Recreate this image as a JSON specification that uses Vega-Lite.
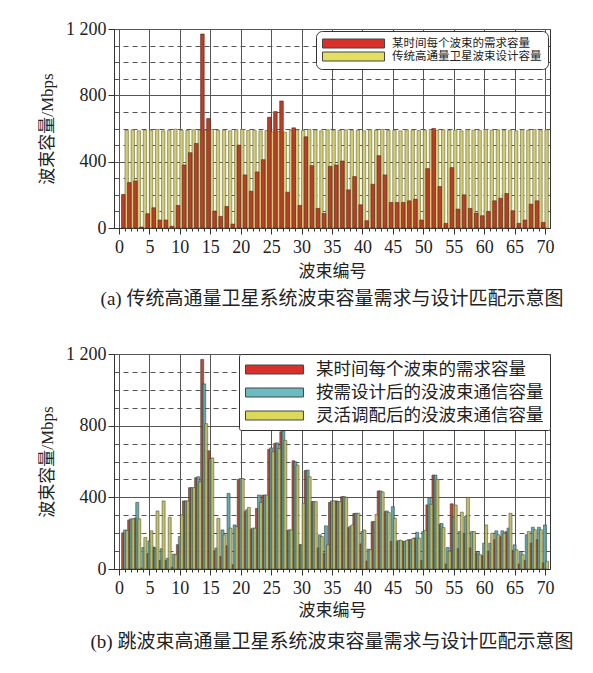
{
  "$schema": "https://vega.github.io/schema/vega-lite/v6.json",
  "padding": {"left": 38, "top": 19, "right": 5, "bottom": 5},
  "data": {
    "values": [
      {"beam": 1, "demand": 202, "trad": 588, "demand_b": 202, "ondemand": 218, "flex": 215},
      {"beam": 2, "demand": 274, "trad": 592, "demand_b": 274, "ondemand": 280, "flex": 280},
      {"beam": 3, "demand": 284, "trad": 586, "demand_b": 284, "ondemand": 372, "flex": 280},
      {"beam": 4, "demand": 6, "trad": 590, "demand_b": 6, "ondemand": 120, "flex": 176},
      {"beam": 5, "demand": 86, "trad": 588, "demand_b": 86, "ondemand": 157, "flex": 213},
      {"beam": 6, "demand": 122, "trad": 594, "demand_b": 122, "ondemand": 117, "flex": 324},
      {"beam": 7, "demand": 48, "trad": 586, "demand_b": 48, "ondemand": 113, "flex": 380},
      {"beam": 8, "demand": 48, "trad": 590, "demand_b": 48, "ondemand": 60, "flex": 289},
      {"beam": 9, "demand": 10, "trad": 596, "demand_b": 10, "ondemand": 83, "flex": 80},
      {"beam": 10, "demand": 136, "trad": 590, "demand_b": 136, "ondemand": 181, "flex": 302},
      {"beam": 11, "demand": 380, "trad": 588, "demand_b": 380, "ondemand": 380, "flex": 380},
      {"beam": 12, "demand": 454, "trad": 592, "demand_b": 454, "ondemand": 454, "flex": 454},
      {"beam": 13, "demand": 510, "trad": 590, "demand_b": 510, "ondemand": 515, "flex": 487},
      {"beam": 14, "demand": 1170, "trad": 588, "demand_b": 1170, "ondemand": 1033, "flex": 811},
      {"beam": 15, "demand": 660, "trad": 594, "demand_b": 660, "ondemand": 617, "flex": 620},
      {"beam": 16, "demand": 102, "trad": 588, "demand_b": 102, "ondemand": 117, "flex": 283},
      {"beam": 17, "demand": 70, "trad": 590, "demand_b": 70, "ondemand": 218, "flex": 191},
      {"beam": 18, "demand": 130, "trad": 586, "demand_b": 130, "ondemand": 422, "flex": 228},
      {"beam": 19, "demand": 24, "trad": 592, "demand_b": 24, "ondemand": 246, "flex": 237},
      {"beam": 20, "demand": 500, "trad": 594, "demand_b": 500, "ondemand": 505, "flex": 505},
      {"beam": 21, "demand": 320, "trad": 588, "demand_b": 320, "ondemand": 330, "flex": 343},
      {"beam": 22, "demand": 222, "trad": 590, "demand_b": 222, "ondemand": 228, "flex": 228},
      {"beam": 23, "demand": 338, "trad": 586, "demand_b": 338, "ondemand": 413, "flex": 372},
      {"beam": 24, "demand": 412, "trad": 588, "demand_b": 412, "ondemand": 413, "flex": 413},
      {"beam": 25, "demand": 668, "trad": 580, "demand_b": 668, "ondemand": 676, "flex": 654},
      {"beam": 26, "demand": 702, "trad": 582, "demand_b": 702, "ondemand": 704, "flex": 672},
      {"beam": 27, "demand": 766, "trad": 578, "demand_b": 766, "ondemand": 770, "flex": 718},
      {"beam": 28, "demand": 216, "trad": 590, "demand_b": 216, "ondemand": 218, "flex": 218},
      {"beam": 29, "demand": 604, "trad": 592, "demand_b": 604, "ondemand": 598, "flex": 580},
      {"beam": 30, "demand": 136, "trad": 588, "demand_b": 136, "ondemand": 135, "flex": 367},
      {"beam": 31, "demand": 550, "trad": 594, "demand_b": 550, "ondemand": 552, "flex": 515},
      {"beam": 32, "demand": 376, "trad": 590, "demand_b": 376, "ondemand": 376, "flex": 376},
      {"beam": 33, "demand": 118, "trad": 586, "demand_b": 118, "ondemand": 191, "flex": 181},
      {"beam": 34, "demand": 88, "trad": 592, "demand_b": 88, "ondemand": 241, "flex": 135},
      {"beam": 35, "demand": 372, "trad": 590, "demand_b": 372, "ondemand": 380, "flex": 380},
      {"beam": 36, "demand": 380, "trad": 588, "demand_b": 380, "ondemand": 376, "flex": 376},
      {"beam": 37, "demand": 404, "trad": 592, "demand_b": 404, "ondemand": 404, "flex": 400},
      {"beam": 38, "demand": 230, "trad": 588, "demand_b": 230, "ondemand": 237, "flex": 246},
      {"beam": 39, "demand": 310, "trad": 590, "demand_b": 310, "ondemand": 311, "flex": 311},
      {"beam": 40, "demand": 140, "trad": 586, "demand_b": 140, "ondemand": 209, "flex": 218},
      {"beam": 41, "demand": 44, "trad": 592, "demand_b": 44, "ondemand": 111, "flex": 107},
      {"beam": 42, "demand": 264, "trad": 590, "demand_b": 264, "ondemand": 265, "flex": 305},
      {"beam": 43, "demand": 436, "trad": 594, "demand_b": 436, "ondemand": 435, "flex": 430},
      {"beam": 44, "demand": 320, "trad": 588, "demand_b": 320, "ondemand": 324, "flex": 315},
      {"beam": 45, "demand": 154, "trad": 590, "demand_b": 154, "ondemand": 348, "flex": 283},
      {"beam": 46, "demand": 154, "trad": 586, "demand_b": 154, "ondemand": 160, "flex": 160},
      {"beam": 47, "demand": 154, "trad": 592, "demand_b": 154, "ondemand": 154, "flex": 160},
      {"beam": 48, "demand": 164, "trad": 590, "demand_b": 164, "ondemand": 163, "flex": 170},
      {"beam": 49, "demand": 174, "trad": 588, "demand_b": 174, "ondemand": 205, "flex": 172},
      {"beam": 50, "demand": 48, "trad": 590, "demand_b": 48, "ondemand": 209, "flex": 215},
      {"beam": 51, "demand": 358, "trad": 594, "demand_b": 358, "ondemand": 398, "flex": 361},
      {"beam": 52, "demand": 600, "trad": 590, "demand_b": 524, "ondemand": 524, "flex": 500},
      {"beam": 53, "demand": 250, "trad": 592, "demand_b": 250, "ondemand": 254, "flex": 231},
      {"beam": 54, "demand": 28, "trad": 588, "demand_b": 28, "ondemand": 120, "flex": 100},
      {"beam": 55, "demand": 364, "trad": 590, "demand_b": 364, "ondemand": 290, "flex": 357},
      {"beam": 56, "demand": 114, "trad": 586, "demand_b": 114, "ondemand": 209, "flex": 317},
      {"beam": 57, "demand": 200, "trad": 592, "demand_b": 200, "ondemand": 293, "flex": 400},
      {"beam": 58, "demand": 118, "trad": 590, "demand_b": 118, "ondemand": 209, "flex": 209},
      {"beam": 59, "demand": 90, "trad": 588, "demand_b": 90, "ondemand": 98, "flex": 80},
      {"beam": 60, "demand": 74, "trad": 594, "demand_b": 74, "ondemand": 144, "flex": 246},
      {"beam": 61, "demand": 100, "trad": 590, "demand_b": 100, "ondemand": 144, "flex": 200},
      {"beam": 62, "demand": 164, "trad": 592, "demand_b": 164, "ondemand": 213, "flex": 191},
      {"beam": 63, "demand": 180, "trad": 588, "demand_b": 180, "ondemand": 213, "flex": 200},
      {"beam": 64, "demand": 208, "trad": 590, "demand_b": 208, "ondemand": 228, "flex": 311},
      {"beam": 65, "demand": 104, "trad": 586, "demand_b": 104, "ondemand": 135, "flex": 107},
      {"beam": 66, "demand": 28, "trad": 592, "demand_b": 28, "ondemand": 98, "flex": 80},
      {"beam": 67, "demand": 48, "trad": 590, "demand_b": 48, "ondemand": 191, "flex": 209},
      {"beam": 68, "demand": 144, "trad": 594, "demand_b": 144, "ondemand": 233, "flex": 219},
      {"beam": 69, "demand": 164, "trad": 590, "demand_b": 164, "ondemand": 233, "flex": 219},
      {"beam": 70, "demand": 34, "trad": 592, "demand_b": 34, "ondemand": 246, "flex": 43}
    ]
  },
  "vconcat": [
    {
      "width": 436,
      "height": 199,
      "title": {"text": "(a) 传统高通量卫星系统波束容量需求与设计匹配示意图", "orient": "bottom", "offset": 11},
      "encoding": {
        "x": {
          "field": "beam",
          "type": "quantitative",
          "title": "波束编号",
          "scale": {"domain": [0, 70], "nice": false, "zero": true},
          "axis": {
            "values": [0,1,2,3,4,5,6,7,8,9,10,11,12,13,14,15,16,17,18,19,20,21,22,23,24,25,26,27,28,29,30,31,32,33,34,35,36,37,38,39,40,41,42,43,44,45,46,47,48,49,50,51,52,53,54,55,56,57,58,59,60,61,62,63,64,65,66,67,68,69,70],
            "labelExpr": "datum.value % 5 === 0 ? datum.label : ''",
            "labelOverlap": false,
            "labelFlush": false,
            "labelPadding": 4,
            "titlePadding": 7,
            "grid": true,
            "gridOpacity": {"condition": {"test": "datum.value % 5 === 0", "value": 1}, "value": 0},
            "tickSize": {"condition": {"test": "datum.value % 5 === 0", "value": 6}, "value": 3}
          }
        },
        "y": {
          "type": "quantitative",
          "title": "波束容量/Mbps",
          "scale": {"domain": [0, 1200], "nice": false},
          "axis": {
            "values": [0,100,200,300,400,500,600,700,800,900,1000,1100,1200],
            "labelExpr": "datum.value % 400 === 0 ? (datum.value === 1200 ? '1 200' : datum.label) : ''",
            "labelOverlap": false,
            "labelFlush": false,
            "titlePadding": 9,
            "grid": true,
            "gridDash": {"condition": {"test": "datum.value % 400 === 0", "value": []}, "value": [5, 4]},
            "tickSize": {"condition": {"test": "datum.value % 400 === 0", "value": 6}, "value": 0}
          }
        }
      },
      "layer": [
        {
          "mark": {"type": "bar", "width": 3.4, "xOffset": 1.6, "fill": "#d0cc78", "stroke": "#6b6830", "strokeWidth": 0.6},
          "encoding": {"y": {"field": "trad"}}
        },
        {
          "mark": {"type": "bar", "width": 3.6, "xOffset": -1.8, "fill": "#b8402a", "stroke": "#5a2418", "strokeWidth": 0.6},
          "encoding": {"y": {"field": "demand"}}
        },
        {
          "mark": {"type": "bar", "opacity": 0},
          "encoding": {
            "y": {"field": "demand"},
            "color": {
              "datum": "某时间每个波束的需求容量",
              "type": "nominal",
              "scale": {
                "domain": ["某时间每个波束的需求容量", "传统高通量卫星波束设计容量"],
                "range": ["#d8312c", "#e3df62"]
              },
              "legend": {
                "title": null,
                "orient": "top-right",
                "offset": 2,
                "padding": 6,
                "strokeColor": "#333",
                "fillColor": "white",
                "cornerRadius": 6,
                "labelFontSize": 11.5,
                "labelLimit": 300,
                "labelOffset": 57,
                "rowPadding": 0,
                "symbolType": "M-1,-0.75H9.33V0.75H-1Z",
                "symbolSize": 144,
                "symbolStrokeColor": "#444",
                "symbolStrokeWidth": 1,
                "symbolOpacity": 1
              }
            }
          }
        }
      ]
    },
    {
      "width": 436,
      "height": 215,
      "title": {"text": "(b) 跳波束高通量卫星系统波束容量需求与设计匹配示意图", "orient": "bottom", "offset": 15},
      "encoding": {
        "x": {
          "field": "beam",
          "type": "quantitative",
          "title": "波束编号",
          "scale": {"domain": [0, 70], "nice": false, "zero": true},
          "axis": {
            "values": [0,1,2,3,4,5,6,7,8,9,10,11,12,13,14,15,16,17,18,19,20,21,22,23,24,25,26,27,28,29,30,31,32,33,34,35,36,37,38,39,40,41,42,43,44,45,46,47,48,49,50,51,52,53,54,55,56,57,58,59,60,61,62,63,64,65,66,67,68,69,70],
            "labelExpr": "datum.value % 5 === 0 ? datum.label : ''",
            "labelOverlap": false,
            "labelFlush": false,
            "labelPadding": 4,
            "titlePadding": 5,
            "grid": true,
            "gridOpacity": {"condition": {"test": "datum.value % 5 === 0", "value": 1}, "value": 0},
            "tickSize": {"condition": {"test": "datum.value % 5 === 0", "value": 6}, "value": 3}
          }
        },
        "y": {
          "type": "quantitative",
          "title": "波束容量/Mbps",
          "scale": {"domain": [0, 1200], "nice": false},
          "axis": {
            "values": [0,100,200,300,400,500,600,700,800,900,1000,1100,1200],
            "labelExpr": "datum.value % 400 === 0 ? (datum.value === 1200 ? '1 200' : datum.label) : ''",
            "labelOverlap": false,
            "labelFlush": false,
            "titlePadding": 9,
            "grid": true,
            "gridDash": {"condition": {"test": "datum.value % 400 === 0", "value": []}, "value": [5, 4]},
            "tickSize": {"condition": {"test": "datum.value % 400 === 0", "value": 6}, "value": 0}
          }
        }
      },
      "layer": [
        {
          "mark": {"type": "bar", "width": 3, "xOffset": -2, "fill": "#a83a2a", "stroke": "#3a2a20", "strokeWidth": 0.6, "opacity": 0.9},
          "encoding": {"y": {"field": "demand_b"}}
        },
        {
          "mark": {"type": "bar", "width": 3, "xOffset": 0, "fill": "#58a2a6", "stroke": "#2a3a3a", "strokeWidth": 0.6, "opacity": 0.9},
          "encoding": {"y": {"field": "ondemand"}}
        },
        {
          "mark": {"type": "bar", "width": 3, "xOffset": 2, "fill": "#bdb964", "stroke": "#4a4a20", "strokeWidth": 0.6, "opacity": 0.9},
          "encoding": {"y": {"field": "flex"}}
        },
        {
          "mark": {"type": "bar", "opacity": 0},
          "encoding": {
            "y": {"field": "demand_b"},
            "color": {
              "datum": "某时间每个波束的需求容量",
              "type": "nominal",
              "scale": {
                "domain": ["某时间每个波束的需求容量", "按需设计后的没波束通信容量", "灵活调配后的没波束通信容量"],
                "range": ["#d8312c", "#6cbac2", "#dcd85a"]
              },
              "legend": {
                "title": null,
                "orient": "top-right",
                "offset": 0,
                "padding": 6,
                "strokeColor": "#333",
                "fillColor": "white",
                "cornerRadius": 2,
                "labelFontSize": 17.5,
                "labelLimit": 400,
                "labelOffset": 52,
                "rowPadding": 5,
                "symbolType": "M-1,-0.5H5.44V0.5H-1Z",
                "symbolSize": 324,
                "symbolStrokeColor": "#444",
                "symbolStrokeWidth": 1,
                "symbolOpacity": 1
              }
            }
          }
        }
      ]
    }
  ],
  "spacing": 34,
  "resolve": {"scale": {"color": "independent"}, "legend": {"color": "independent"}},
  "config": {
    "font": "Liberation Serif, Noto Sans CJK SC",
    "view": {"stroke": "#333"},
    "title": {"font": "Liberation Serif, Noto Sans CJK SC", "fontSize": 19, "fontWeight": "normal", "color": "#222"},
    "legend": {"labelFont": "Liberation Serif, Noto Sans CJK SC", "labelColor": "#222"},
    "axis": {
      "labelFont": "Liberation Serif, Noto Sans CJK SC",
      "titleFont": "Liberation Serif, Noto Sans CJK SC",
      "labelFontSize": 18,
      "titleFontSize": 17,
      "titleFontWeight": "normal",
      "labelColor": "#222",
      "titleColor": "#222",
      "domainColor": "#333",
      "tickColor": "#333",
      "gridColor": "#555"
    }
  }
}
